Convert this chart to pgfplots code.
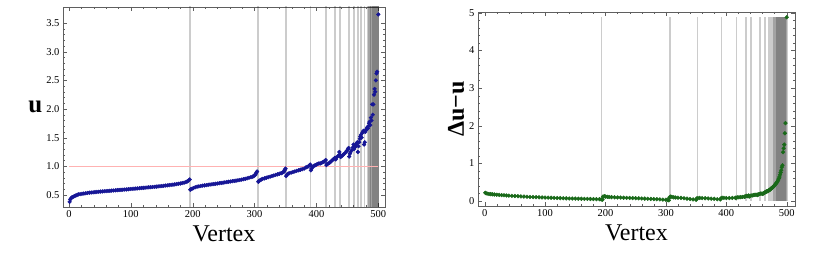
\documentclass[border=0pt]{standalone}
\usepackage{pgfplots}
\pgfplotsset{compat=1.18}
\usepackage{fontspec}
\setmainfont{Liberation Serif}

\definecolor{udot}{RGB}{22,22,150}
\definecolor{gdot}{RGB}{25,105,25}
\definecolor{framec}{RGB}{95,95,95}

\pgfplotsset{mma/.style={
    scale only axis,
    axis line style={framec},
    tick style={framec},
    major tick length=4pt, minor tick length=2pt,
    xtick={0,100,...,500}, minor x tick num=4, minor y tick num=4,
    tick label style={font=\fontsize{10.5}{12}\selectfont},
    /pgf/number format/assume math mode=true,
    xlabel={Vertex},
    xlabel style={font=\fontsize{24}{26}\selectfont, at={(axis description cs:0.5,0)}, anchor=center, yshift=-27pt},
  },
  vlines/.style={ycomb, draw=black, opacity=0.2, line width=1.8pt},
}

\begin{document}
\begin{tikzpicture}
\path[use as bounding box] (0,0) rectangle (830pt,257pt);

% left: u by vertex
\begin{axis}[mma,
    at={(63pt,50pt)}, width=322pt, height=200pt,
    xmin=-9.7, xmax=510.8, ymin=0.29, ymax=3.78,
    ytick={0.5,1,...,3.5},
    yticklabel style={/pgf/number format/.cd, fixed, fixed zerofill, precision=1},
    ylabel={\bfseries u},
    ylabel style={font=\fontsize{25}{27}\selectfont, rotate=-90, at={(axis description cs:-0.086,0.5)}, anchor=center},
  ]
  \addplot[vlines] coordinates {
    (195.5,3.8) (305.5,3.8) (350.5,3.8) (390.5,3.8) (415.5,3.8) (430.5,3.8) (438.5,3.8)
    (452.5,3.8) (460.5,3.8) (467.5,3.8) (472.5,3.8) (477.5,3.8)
  };
  \addplot[vlines] coordinates {(482.5,3.8) (486,3.8) (489,3.8) (492,3.8) (495,3.8) (498,3.8) (500.3,3.8)};
  \addplot[vlines] coordinates {(484,3.8) (487.5,3.8) (490.5,3.8) (493.5,3.8) (496.5,3.8) (499.3,3.8)};
  \addplot[vlines] coordinates {(485,3.8) (488.5,3.8) (491.5,3.8) (494.5,3.8) (497.5,3.8) (500,3.8)};
  \addplot[draw=red!30, line width=1.3pt] coordinates {(0,1) (500,1)};
  \addplot[only marks, mark=*, mark size=1.9pt, color=udot] coordinates {
    (1,0.38) (2,0.42) (3,0.44) (5,0.46) (7,0.47) (9,0.48) (11,0.49) (13,0.50) (15,0.51)
    (18,0.515) (21,0.52) (24,0.525) (27,0.53) (30,0.535) (33,0.54) (36,0.543) (39,0.546)
    (42,0.55) (45,0.553) (48,0.556) (51,0.559) (54,0.562) (57,0.565) (60,0.567) (63,0.57)
    (66,0.573) (69,0.576) (72,0.578) (75,0.581) (78,0.584) (81,0.587) (84,0.589) (87,0.592)
    (90,0.595) (93,0.597) (96,0.6) (99,0.603) (102,0.606) (105,0.609) (108,0.612) (111,0.615)
    (114,0.618) (117,0.621) (120,0.624) (123,0.627) (126,0.63) (129,0.633) (132,0.636)
    (135,0.639) (138,0.642) (141,0.645) (144,0.649) (147,0.652) (150,0.656) (153,0.66)
    (156,0.664) (159,0.668) (162,0.672) (165,0.676) (168,0.68) (171,0.685) (174,0.69)
    (177,0.695) (180,0.70) (183,0.707) (186,0.715) (189,0.725) (191,0.735) (193,0.75) (195,0.77)
    (196,0.59) (197,0.60) (199,0.61) (201,0.62) (204,0.635) (207,0.645) (210,0.65) (213,0.656)
    (216,0.662) (219,0.667) (222,0.672) (225,0.677) (228,0.682) (231,0.686) (234,0.69)
    (237,0.695) (240,0.70) (243,0.705) (246,0.71) (249,0.715) (252,0.72) (255,0.725)
    (258,0.73) (261,0.735) (264,0.74) (267,0.745) (270,0.75) (273,0.756) (276,0.762)
    (279,0.768) (282,0.775) (285,0.782) (288,0.79) (291,0.80) (294,0.81) (297,0.82)
    (299,0.83) (301,0.85) (302,0.87) (303,0.89) (304,0.91)
    (306,0.73) (307,0.745) (309,0.76) (311,0.77) (313,0.78) (316,0.79) (319,0.80) (322,0.81)
    (325,0.82) (328,0.83) (331,0.84) (334,0.85) (337,0.86) (340,0.87) (343,0.88) (345,0.89)
    (347,0.90) (348,0.92) (349,0.94) (350,0.96)
    (351,0.83) (352,0.85) (354,0.87) (356,0.88) (359,0.89) (362,0.90) (365,0.91) (368,0.92)
    (371,0.93) (374,0.94) (377,0.95) (380,0.96) (383,0.98) (385,0.99) (387,1.0) (389,1.02) (390,1.03)
    (391,0.93) (392,0.96) (394,0.99) (396,1.01) (398,1.02) (400,1.03) (402,1.04) (404,1.05)
    (406,1.05) (408,1.06) (410,1.07) (412,1.08) (414,1.10) (415,1.11)
    (416,1.02) (417,1.04) (419,1.05) (421,1.06) (423,1.08) (425,1.10) (427,1.12) (429,1.14) (430,1.15)
    (431,1.12) (432,1.15) (434,1.17) (436,1.19) (437,1.25) (438,1.20)
    (439,1.16) (441,1.18) (443,1.20) (445,1.22) (447,1.24) (449,1.27) (451,1.30) (452,1.32)
    (453,1.17) (454,1.22) (455,1.25) (457,1.28) (459,1.33) (460,1.38)
    (461,1.30) (462,1.33) (463,1.35) (464,1.38) (465,1.40) (466,1.42) (467,1.25)
    (468,1.35) (469,1.42) (470,1.48) (471,1.52) (472,1.55)
    (473,1.50) (474,1.58) (475,1.60) (476,1.62) (477,1.38)
    (478,1.42) (479,1.60) (480,1.63) (481,1.65) (482,1.68)
    (483,1.66) (484,1.70) (485,1.75) (486,1.78) (487,1.72) (488,1.85) (489,1.80)
    (490,2.08) (491,1.90) (492,2.08) (493,2.25) (494,2.35) (495,2.30) (496,2.50)
    (497,2.62) (498,2.65) (500,3.65)
  };
\end{axis}

% right: Delta u - u by vertex
\begin{axis}[mma,
    at={(478pt,51pt)}, width=317pt, height=194pt,
    xmin=-11.1, xmax=513.8, ymin=-0.13, ymax=5.02,
    ytick={0,1,...,5},
    ylabel={\bfseries Δu−u},
    ylabel style={font=\fontsize{24}{26}\selectfont, at={(axis description cs:-0.069,0.5)}, anchor=center},
  ]
  \addplot[vlines] coordinates {
    (193.5,4.9) (306.5,4.9) (352.5,4.9) (392,4.9) (417,4.9) (432,4.9) (441,4.9)
    (456,4.9) (464,4.9) (470,4.9) (475,4.9)
  };
  \addplot[vlines] coordinates {(472.5,4.9) (477.5,4.9) (481,4.9) (484.5,4.9) (487.5,4.9) (490.5,4.9) (493.5,4.9) (496.5,4.9) (499.5,4.9)};
  \addplot[vlines] coordinates {(479,4.9) (482.5,4.9) (486,4.9) (489,4.9) (492,4.9) (495,4.9) (498,4.9)};
  \addplot[vlines] coordinates {(483.5,4.9) (487,4.9) (490,4.9) (493,4.9) (495.5,4.9) (497.5,4.9) (500.3,4.9)};
  \addplot[only marks, mark=*, mark size=1.9pt, color=gdot] coordinates {
    (1,0.22) (2,0.21) (4,0.20) (7,0.19) (10,0.185) (13,0.18) (16,0.175) (20,0.17) (24,0.165)
    (28,0.16) (32,0.155) (36,0.15) (40,0.145) (45,0.14) (50,0.135) (55,0.13) (60,0.125)
    (65,0.12) (70,0.115) (75,0.11) (80,0.107) (85,0.104) (90,0.10) (95,0.097) (100,0.094)
    (105,0.091) (110,0.088) (115,0.085) (120,0.082) (125,0.079) (130,0.076) (135,0.073)
    (140,0.07) (145,0.068) (150,0.066) (155,0.064) (160,0.062) (165,0.06) (170,0.058)
    (175,0.056) (180,0.054) (185,0.052) (190,0.05) (193,0.045) (195,0.04)
    (196,0.12) (198,0.13) (200,0.12) (203,0.115) (206,0.11) (210,0.105) (215,0.10) (220,0.097)
    (225,0.094) (230,0.09) (235,0.087) (240,0.084) (245,0.08) (250,0.077) (255,0.074)
    (260,0.07) (265,0.066) (270,0.062) (275,0.058) (280,0.054) (285,0.05) (290,0.045)
    (295,0.04) (300,0.035) (303,0.03) (305,0.02)
    (306,0.10) (308,0.12) (310,0.11) (313,0.10) (316,0.095) (320,0.09) (325,0.085) (330,0.075)
    (335,0.065) (340,0.055) (345,0.045) (350,0.035)
    (351,0.07) (353,0.08) (356,0.085) (360,0.08) (365,0.075) (370,0.07) (375,0.065) (380,0.06)
    (385,0.05) (390,0.045)
    (391,0.07) (393,0.09) (396,0.085) (400,0.08) (405,0.08) (410,0.085) (415,0.09)
    (416,0.08) (418,0.10) (421,0.10) (424,0.105) (427,0.11) (430,0.115)
    (431,0.12) (433,0.14) (435,0.13) (437,0.15) (438,0.12)
    (439,0.13) (441,0.15) (443,0.15) (445,0.16) (447,0.165) (449,0.17) (451,0.17) (452,0.16)
    (453,0.18) (455,0.19) (457,0.20) (459,0.20) (460,0.19)
    (461,0.20) (462,0.21) (463,0.22) (464,0.23) (465,0.24) (466,0.25) (467,0.26)
    (468,0.26) (469,0.27) (470,0.28) (471,0.29) (472,0.30)
    (473,0.31) (474,0.33) (475,0.34) (476,0.36) (477,0.37)
    (478,0.38) (479,0.40) (480,0.42) (481,0.44) (482,0.46)
    (483,0.48) (484,0.50) (485,0.53) (486,0.56) (487,0.60) (488,0.64) (489,0.70)
    (490,0.76) (491,0.82) (492,0.90) (493,0.95) (494,1.30) (495,1.40) (496,1.50)
    (497,1.80) (498,2.07) (500,4.88)
  };
\end{axis}
\end{tikzpicture}
\end{document}
